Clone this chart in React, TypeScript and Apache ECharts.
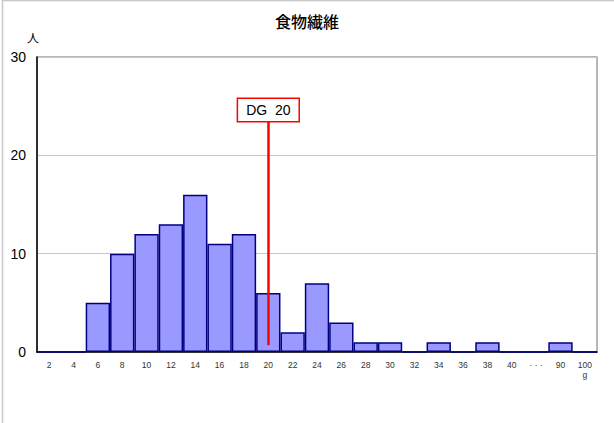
import React, { useEffect, useRef } from "react";
import * as echarts from "echarts";

const categories = ["2", "4", "6", "8", "10", "12", "14", "16", "18", "20", "22", "24", "26", "28", "30", "32", "34", "36", "38", "40", "…", "90", "100"];
const counts = [0, 0, 5, 10, 12, 13, 16, 11, 12, 6, 2, 7, 3, 1, 1, 0, 1, 0, 1, 0, 0, 1, 0];
const dgCategory = "20";
const dgLineFrom = 0.7;
const dgLineTo = 23.5;
const dgLabel = "DG  20";
const title = "食物繊維";
const yName = "人";
const xUnit = "g";

export default function App() {
  const ref = useRef<HTMLDivElement>(null);
  useEffect(() => {
    const chart = echarts.init(ref.current!, null, { renderer: "svg" });
    chart.setOption({
      animation: false,
      backgroundColor: "#fff",
      title: {
        text: title,
        left: "center",
        top: 8,
        textStyle: { fontSize: 16, fontWeight: 500, color: "#000", fontFamily: "Noto Sans CJK JP" },
      },
      graphic: [
        {
          type: "rect",
          shape: { x: 2.5, y: 0.5, width: 700, height: 600 },
          style: { fill: "none", stroke: "#c8c8c8", lineWidth: 1.5 },
          silent: true,
        },
      ],
      grid: {
        left: 37,
        right: 17,
        top: 57,
        bottom: 71,
        show: true,
        borderColor: "#a0a0a0",
        borderWidth: 1.5,
        containLabel: false,
      },
      xAxis: {
        type: "category",
        data: categories,
        axisLine: { show: true, lineStyle: { color: "#000", width: 1.5 } },
        axisTick: { show: false },
        axisLabel: {
          fontSize: 8.5,
          color: "#333",
          margin: 8,
          interval: 0,
          fontFamily: "Liberation Sans",
          formatter: (v: string) => (v === "100" ? "100\n" + xUnit : v === "…" ? "· · ·" : v),
          lineHeight: 10,
        },
        splitLine: { show: false },
      },
      yAxis: {
        type: "value",
        min: 0,
        max: 30,
        interval: 10,
        name: yName,
        nameLocation: "end",
        nameGap: 14,
        nameTextStyle: { fontSize: 12, color: "#000", align: "center", padding: [0, 0, 0, -8], fontFamily: "Noto Sans CJK JP" },
        axisLine: { show: true, lineStyle: { color: "#000", width: 1.5 } },
        axisTick: { show: false },
        axisLabel: { fontSize: 14, color: "#000", margin: 11, fontFamily: "Liberation Sans" },
        splitLine: { show: true, lineStyle: { color: "#c8c8c8", width: 1 } },
      },
      series: [
        {
          type: "bar",
          data: counts,
          barCategoryGap: "0%",
          itemStyle: { color: "#9999ff", borderColor: "#000080", borderWidth: 1.5 },
          markLine: {
            silent: true,
            symbol: ["none", "none"],
            lineStyle: { color: "#ff0000", width: 2.5, type: "solid" },
            label: {
              show: true,
              position: "end",
              distance: 0,
              formatter: dgLabel,
              color: "#000",
              fontSize: 14,
              fontFamily: "Liberation Sans",
              backgroundColor: "#fff",
              borderColor: "#ff0000",
              borderWidth: 1.5,
              padding: [4, 8, 4, 8],
            },
            data: [
              [
                { coord: [dgCategory, dgLineFrom] },
                { coord: [dgCategory, dgLineTo] },
              ],
            ],
          },
        },
      ],
    });
    return () => chart.dispose();
  }, []);
  return <div ref={ref} style={{ position: "absolute", left: 0, top: 0, width: 614, height: 423 }} />;
}
